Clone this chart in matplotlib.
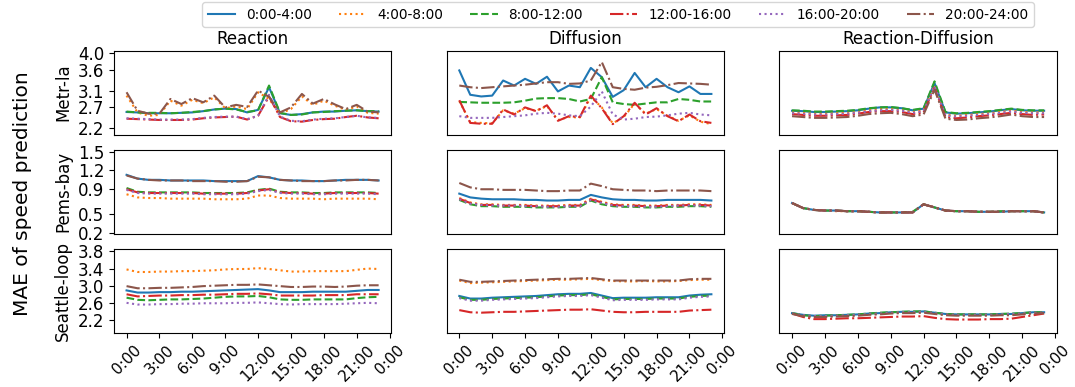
import numpy as np
import matplotlib.pyplot as plt

slots = ['0:00-4:00', '4:00-8:00', '8:00-12:00', '12:00-16:00', '16:00-20:00', '20:00-24:00']
datasets = ['Metr-la', 'Pems-bay', 'Seattle-loop']
models = ['Reaction', 'Diffusion', 'Reaction-Diffusion']
hours = np.arange(24)
tick_hours = [0, 3, 6, 9, 12, 15, 18, 21, 24]
tick_labels = ['0:00', '3:00', '6:00', '9:00', '12:00', '15:00', '18:00', '21:00', '0:00']

# one list per time slot, in the order of slots
metr_reaction = [
    [2.59, 2.58, 2.56, 2.56, 2.56, 2.57, 2.58, 2.61, 2.65, 2.67, 2.66, 2.58, 2.64, 3.18, 2.56, 2.52, 2.54, 2.58, 2.60, 2.60, 2.62, 2.63, 2.61, 2.60],
    [2.98, 2.58, 2.50, 2.52, 2.86, 2.74, 2.88, 2.80, 2.94, 2.68, 2.72, 2.66, 3.06, 2.90, 2.55, 2.66, 2.96, 2.76, 2.86, 2.74, 2.64, 2.72, 2.57, 2.55],
    [2.60, 2.58, 2.57, 2.57, 2.56, 2.57, 2.59, 2.61, 2.65, 2.67, 2.65, 2.59, 2.63, 3.22, 2.57, 2.52, 2.53, 2.58, 2.59, 2.61, 2.62, 2.63, 2.61, 2.61],
    [2.43, 2.42, 2.41, 2.40, 2.40, 2.40, 2.41, 2.44, 2.46, 2.47, 2.48, 2.41, 2.50, 2.96, 2.47, 2.37, 2.36, 2.40, 2.42, 2.43, 2.47, 2.50, 2.46, 2.44],
    [2.44, 2.43, 2.42, 2.41, 2.41, 2.41, 2.42, 2.45, 2.47, 2.48, 2.48, 2.42, 2.50, 3.00, 2.48, 2.38, 2.37, 2.41, 2.43, 2.44, 2.47, 2.50, 2.46, 2.45],
    [3.06, 2.62, 2.55, 2.55, 2.90, 2.78, 2.92, 2.82, 2.98, 2.70, 2.76, 2.71, 3.10, 2.95, 2.58, 2.70, 3.02, 2.79, 2.90, 2.77, 2.66, 2.76, 2.60, 2.58],
]
metr_diffusion = [
    [3.58, 3.00, 2.96, 2.98, 3.34, 3.22, 3.38, 3.26, 3.43, 3.08, 3.22, 3.18, 3.64, 3.42, 2.95, 3.11, 3.52, 3.18, 3.38, 3.18, 3.06, 3.20, 3.02, 3.02],
    [2.85, 2.35, 2.33, 2.32, 2.63, 2.55, 2.68, 2.62, 2.73, 2.40, 2.47, 2.46, 2.95, 2.70, 2.32, 2.47, 2.79, 2.55, 2.66, 2.50, 2.38, 2.51, 2.36, 2.30],
    [2.83, 2.82, 2.81, 2.81, 2.81, 2.82, 2.86, 2.91, 2.92, 2.92, 2.90, 2.84, 2.90, 3.42, 2.82, 2.78, 2.76, 2.79, 2.82, 2.82, 2.90, 2.88, 2.84, 2.84],
    [2.87, 2.33, 2.31, 2.31, 2.65, 2.53, 2.70, 2.61, 2.75, 2.38, 2.49, 2.47, 2.98, 2.68, 2.30, 2.49, 2.81, 2.53, 2.68, 2.49, 2.37, 2.53, 2.37, 2.33],
    [2.49, 2.45, 2.45, 2.45, 2.47, 2.49, 2.51, 2.55, 2.57, 2.55, 2.51, 2.49, 2.72, 3.08, 2.53, 2.41, 2.43, 2.47, 2.48, 2.51, 2.55, 2.57, 2.53, 2.51],
    [3.22, 3.18, 3.16, 3.18, 3.20, 3.22, 3.24, 3.27, 3.30, 3.30, 3.26, 3.27, 3.34, 3.78, 3.18, 3.14, 3.12, 3.17, 3.19, 3.23, 3.28, 3.27, 3.26, 3.24],
]
metr_react_diff = [
    [2.62, 2.61, 2.59, 2.59, 2.60, 2.61, 2.63, 2.67, 2.70, 2.70, 2.68, 2.63, 2.67, 3.28, 2.58, 2.55, 2.56, 2.58, 2.60, 2.63, 2.66, 2.63, 2.62, 2.62],
    [2.58, 2.57, 2.55, 2.55, 2.56, 2.57, 2.59, 2.63, 2.66, 2.66, 2.64, 2.59, 2.63, 3.22, 2.53, 2.50, 2.52, 2.54, 2.56, 2.59, 2.62, 2.59, 2.58, 2.58],
    [2.63, 2.62, 2.60, 2.60, 2.61, 2.62, 2.64, 2.68, 2.70, 2.71, 2.68, 2.64, 2.68, 3.32, 2.59, 2.56, 2.57, 2.59, 2.61, 2.64, 2.67, 2.64, 2.63, 2.63],
    [2.54, 2.52, 2.50, 2.50, 2.51, 2.52, 2.55, 2.59, 2.61, 2.61, 2.59, 2.54, 2.58, 3.17, 2.47, 2.44, 2.46, 2.49, 2.51, 2.54, 2.57, 2.54, 2.52, 2.53],
    [2.56, 2.55, 2.53, 2.53, 2.54, 2.55, 2.57, 2.61, 2.63, 2.64, 2.62, 2.57, 2.61, 3.20, 2.51, 2.48, 2.50, 2.52, 2.54, 2.57, 2.60, 2.57, 2.56, 2.56],
    [2.49, 2.47, 2.45, 2.45, 2.46, 2.47, 2.50, 2.54, 2.56, 2.57, 2.54, 2.49, 2.53, 3.12, 2.43, 2.40, 2.41, 2.44, 2.46, 2.49, 2.53, 2.49, 2.47, 2.47],
]

pems_reaction = [
    [1.13, 1.07, 1.05, 1.05, 1.04, 1.04, 1.04, 1.04, 1.03, 1.03, 1.03, 1.03, 1.11, 1.09, 1.05, 1.04, 1.04, 1.03, 1.03, 1.04, 1.05, 1.05, 1.05, 1.04],
    [0.82, 0.77, 0.76, 0.76, 0.75, 0.75, 0.75, 0.75, 0.74, 0.74, 0.74, 0.75, 0.80, 0.80, 0.76, 0.75, 0.75, 0.75, 0.74, 0.75, 0.75, 0.75, 0.75, 0.74],
    [0.92, 0.86, 0.85, 0.85, 0.85, 0.85, 0.85, 0.84, 0.84, 0.84, 0.84, 0.85, 0.89, 0.91, 0.86, 0.85, 0.85, 0.84, 0.84, 0.85, 0.85, 0.85, 0.85, 0.84],
    [0.90, 0.85, 0.84, 0.84, 0.84, 0.84, 0.84, 0.83, 0.83, 0.83, 0.83, 0.84, 0.88, 0.90, 0.85, 0.84, 0.84, 0.83, 0.83, 0.84, 0.84, 0.84, 0.84, 0.83],
    [0.89, 0.84, 0.83, 0.83, 0.83, 0.83, 0.83, 0.82, 0.82, 0.82, 0.82, 0.83, 0.87, 0.89, 0.84, 0.83, 0.83, 0.82, 0.82, 0.83, 0.83, 0.83, 0.83, 0.82],
    [1.12, 1.07, 1.05, 1.04, 1.04, 1.04, 1.03, 1.03, 1.03, 1.02, 1.02, 1.03, 1.10, 1.09, 1.05, 1.04, 1.03, 1.03, 1.03, 1.04, 1.04, 1.05, 1.05, 1.04],
]
pems_diffusion = [
    [0.83, 0.77, 0.75, 0.74, 0.74, 0.74, 0.73, 0.73, 0.72, 0.72, 0.73, 0.73, 0.81, 0.77, 0.74, 0.73, 0.73, 0.72, 0.72, 0.73, 0.73, 0.73, 0.73, 0.72],
    [0.76, 0.69, 0.66, 0.66, 0.65, 0.65, 0.65, 0.64, 0.64, 0.64, 0.65, 0.65, 0.75, 0.70, 0.66, 0.65, 0.65, 0.64, 0.64, 0.65, 0.65, 0.66, 0.66, 0.65],
    [0.73, 0.66, 0.63, 0.63, 0.62, 0.62, 0.62, 0.61, 0.61, 0.61, 0.62, 0.62, 0.72, 0.66, 0.63, 0.62, 0.62, 0.61, 0.61, 0.62, 0.62, 0.63, 0.63, 0.62],
    [0.75, 0.68, 0.65, 0.65, 0.64, 0.64, 0.64, 0.63, 0.63, 0.63, 0.64, 0.64, 0.74, 0.69, 0.65, 0.64, 0.64, 0.63, 0.63, 0.64, 0.64, 0.65, 0.65, 0.64],
    [0.74, 0.67, 0.65, 0.64, 0.64, 0.64, 0.63, 0.63, 0.62, 0.62, 0.63, 0.63, 0.73, 0.68, 0.64, 0.63, 0.63, 0.62, 0.62, 0.63, 0.64, 0.64, 0.64, 0.63],
    [1.00, 0.93, 0.90, 0.90, 0.89, 0.89, 0.89, 0.88, 0.87, 0.87, 0.88, 0.88, 0.99, 0.95, 0.90, 0.89, 0.88, 0.88, 0.87, 0.88, 0.88, 0.88, 0.88, 0.87],
]
pems_react_diff = [
    [0.68, 0.60, 0.57, 0.56, 0.56, 0.55, 0.55, 0.54, 0.53, 0.53, 0.53, 0.53, 0.66, 0.61, 0.56, 0.55, 0.55, 0.54, 0.54, 0.54, 0.55, 0.55, 0.55, 0.53],
    [0.68, 0.60, 0.57, 0.56, 0.55, 0.55, 0.55, 0.54, 0.53, 0.53, 0.53, 0.53, 0.66, 0.61, 0.56, 0.55, 0.55, 0.54, 0.54, 0.54, 0.55, 0.55, 0.55, 0.53],
    [0.68, 0.60, 0.57, 0.56, 0.56, 0.55, 0.55, 0.54, 0.53, 0.53, 0.53, 0.54, 0.66, 0.61, 0.56, 0.55, 0.55, 0.54, 0.54, 0.55, 0.55, 0.55, 0.55, 0.53],
    [0.68, 0.60, 0.57, 0.56, 0.56, 0.55, 0.55, 0.54, 0.53, 0.53, 0.53, 0.53, 0.66, 0.61, 0.56, 0.55, 0.55, 0.54, 0.54, 0.54, 0.55, 0.55, 0.55, 0.53],
    [0.68, 0.60, 0.57, 0.56, 0.56, 0.55, 0.55, 0.54, 0.53, 0.53, 0.53, 0.53, 0.66, 0.61, 0.56, 0.55, 0.55, 0.54, 0.54, 0.54, 0.55, 0.55, 0.55, 0.53],
    [0.68, 0.60, 0.57, 0.56, 0.56, 0.55, 0.55, 0.54, 0.53, 0.53, 0.53, 0.53, 0.66, 0.61, 0.56, 0.55, 0.55, 0.54, 0.54, 0.54, 0.55, 0.55, 0.55, 0.53],
]

seattle_reaction = [
    [2.89, 2.84, 2.84, 2.85, 2.85, 2.86, 2.86, 2.87, 2.88, 2.89, 2.90, 2.91, 2.92, 2.89, 2.85, 2.85, 2.85, 2.86, 2.86, 2.86, 2.86, 2.88, 2.90, 2.90],
    [3.38, 3.32, 3.32, 3.33, 3.33, 3.34, 3.34, 3.35, 3.36, 3.38, 3.39, 3.39, 3.41, 3.39, 3.36, 3.33, 3.33, 3.34, 3.34, 3.34, 3.34, 3.37, 3.40, 3.39],
    [2.72, 2.67, 2.66, 2.67, 2.68, 2.68, 2.69, 2.70, 2.72, 2.74, 2.75, 2.75, 2.76, 2.73, 2.68, 2.67, 2.67, 2.68, 2.68, 2.68, 2.68, 2.71, 2.73, 2.74],
    [2.80, 2.75, 2.76, 2.77, 2.77, 2.78, 2.78, 2.79, 2.79, 2.80, 2.81, 2.81, 2.82, 2.80, 2.77, 2.77, 2.77, 2.77, 2.78, 2.78, 2.78, 2.80, 2.80, 2.80],
    [2.60, 2.56, 2.56, 2.57, 2.57, 2.58, 2.58, 2.59, 2.59, 2.59, 2.60, 2.60, 2.61, 2.59, 2.57, 2.56, 2.57, 2.57, 2.57, 2.57, 2.58, 2.59, 2.60, 2.59],
    [2.99, 2.94, 2.94, 2.95, 2.95, 2.96, 2.97, 2.99, 3.00, 3.01, 3.02, 3.02, 3.03, 3.01, 2.99, 2.97, 2.97, 2.98, 2.98, 2.97, 2.98, 3.00, 3.01, 3.01],
]
seattle_diffusion = [
    [2.76, 2.70, 2.70, 2.72, 2.73, 2.74, 2.75, 2.76, 2.78, 2.80, 2.81, 2.81, 2.83, 2.77, 2.71, 2.72, 2.72, 2.72, 2.73, 2.73, 2.73, 2.77, 2.79, 2.80],
    [3.12, 3.06, 3.07, 3.08, 3.09, 3.10, 3.11, 3.12, 3.13, 3.14, 3.14, 3.15, 3.16, 3.13, 3.11, 3.10, 3.10, 3.11, 3.10, 3.10, 3.11, 3.13, 3.14, 3.14],
    [2.73, 2.67, 2.67, 2.69, 2.70, 2.71, 2.72, 2.73, 2.75, 2.77, 2.78, 2.78, 2.80, 2.74, 2.68, 2.69, 2.69, 2.69, 2.70, 2.70, 2.70, 2.74, 2.76, 2.77],
    [2.43, 2.38, 2.37, 2.38, 2.39, 2.39, 2.40, 2.41, 2.42, 2.43, 2.44, 2.44, 2.45, 2.42, 2.39, 2.38, 2.38, 2.39, 2.39, 2.39, 2.39, 2.42, 2.43, 2.44],
    [2.71, 2.65, 2.65, 2.67, 2.68, 2.69, 2.70, 2.71, 2.73, 2.75, 2.76, 2.76, 2.78, 2.72, 2.66, 2.67, 2.67, 2.67, 2.68, 2.68, 2.68, 2.72, 2.74, 2.75],
    [3.14, 3.09, 3.09, 3.10, 3.11, 3.12, 3.13, 3.14, 3.15, 3.16, 3.16, 3.17, 3.18, 3.15, 3.12, 3.12, 3.12, 3.12, 3.12, 3.12, 3.12, 3.15, 3.16, 3.16],
]
seattle_react_diff = [
    [2.36, 2.32, 2.30, 2.31, 2.31, 2.32, 2.33, 2.35, 2.36, 2.38, 2.39, 2.39, 2.40, 2.37, 2.34, 2.33, 2.33, 2.33, 2.33, 2.34, 2.34, 2.36, 2.38, 2.38],
    [2.35, 2.30, 2.28, 2.29, 2.30, 2.31, 2.32, 2.34, 2.35, 2.37, 2.38, 2.38, 2.39, 2.36, 2.33, 2.32, 2.32, 2.32, 2.32, 2.33, 2.33, 2.35, 2.37, 2.37],
    [2.36, 2.31, 2.29, 2.30, 2.31, 2.32, 2.33, 2.35, 2.37, 2.38, 2.39, 2.40, 2.40, 2.37, 2.34, 2.33, 2.33, 2.33, 2.33, 2.34, 2.35, 2.36, 2.38, 2.38],
    [2.35, 2.27, 2.22, 2.22, 2.23, 2.24, 2.24, 2.25, 2.26, 2.27, 2.28, 2.28, 2.29, 2.25, 2.22, 2.21, 2.21, 2.21, 2.22, 2.22, 2.23, 2.27, 2.31, 2.35],
    [2.35, 2.31, 2.29, 2.29, 2.30, 2.31, 2.32, 2.34, 2.35, 2.37, 2.38, 2.38, 2.39, 2.36, 2.33, 2.32, 2.32, 2.32, 2.32, 2.33, 2.34, 2.35, 2.37, 2.37],
    [2.34, 2.29, 2.27, 2.27, 2.28, 2.29, 2.30, 2.32, 2.33, 2.35, 2.36, 2.36, 2.37, 2.34, 2.31, 2.30, 2.30, 2.30, 2.30, 2.31, 2.31, 2.33, 2.35, 2.36],
]

metr_yticks = [2.2, 2.7, 3.1, 3.6, 4.0]
pems_yticks = [0.2, 0.5, 0.9, 1.2, 1.5]
seattle_yticks = [2.2, 2.6, 3.0, 3.4, 3.8]

styles = ['-', ':', '--', '-.', ':', '-.']
colors = ['tab:blue', 'tab:orange', 'tab:green', 'tab:red', 'tab:purple', 'tab:brown']


def plot_row(axes, row_data, yticks, ylim, row_name):
    for ax, series in zip(axes, row_data):
        for values, style, color, slot in zip(series, styles, colors, slots):
            ax.plot(hours, values, linestyle=style, color=color, linewidth=1.5, label=slot)
        ax.set_ylim(ylim)
        ax.set_yticks(yticks)
        ax.set_yticklabels(['%.1f' % t for t in yticks])
        ax.set_xticks(tick_hours)
    axes[0].set_ylabel(row_name, fontsize=12)
    for ax in axes[1:]:
        ax.tick_params(axis='y', left=False, labelleft=False)


def main():
    fig, axs = plt.subplots(3, 3, figsize=(10.75, 3.87), dpi=100)
    fig.subplots_adjust(left=0.106, right=0.983, top=0.869, bottom=0.14, wspace=0.2, hspace=0.18)

    plot_row(axs[0], [metr_reaction, metr_diffusion, metr_react_diff], metr_yticks, (2.05, 4.05), datasets[0])
    plot_row(axs[1], [pems_reaction, pems_diffusion, pems_react_diff], pems_yticks, (0.19, 1.53), datasets[1])
    plot_row(axs[2], [seattle_reaction, seattle_diffusion, seattle_react_diff], seattle_yticks, (1.9, 3.86), datasets[2])

    for ax in axs.flat:
        ax.tick_params(axis='y', labelsize=12)
    for ax in axs[:2].flat:
        ax.tick_params(axis='x', bottom=False, labelbottom=False)
    for ax in axs[2]:
        ax.set_xticklabels(tick_labels, rotation=45, fontsize=11)
    for ax, title in zip(axs[0], models):
        ax.set_title(title, fontsize=12, pad=5)

    fig.supylabel('MAE of speed prediction', fontsize=14.5, x=0.012)
    handles, labels = axs[0, 0].get_legend_handles_labels()
    fig.legend(handles, labels, loc='upper center', bbox_to_anchor=(0.575, 1.012), ncol=6, fontsize=9.8)
    fig.savefig('out.png', dpi=100)


if __name__ == '__main__':
    main()
